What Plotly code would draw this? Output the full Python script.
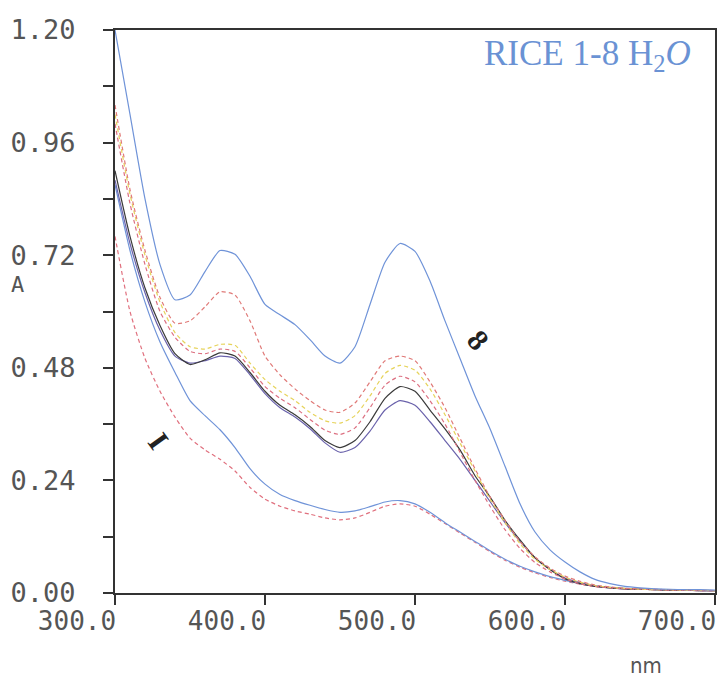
import plotly.graph_objects as go

wavelength = list(range(300, 701, 10))

rice_8 = [1.20, 1.02, 0.84, 0.70, 0.625, 0.635, 0.685, 0.73, 0.722, 0.675,
          0.615, 0.593, 0.572, 0.54, 0.505, 0.49, 0.525, 0.615, 0.705, 0.745,
          0.728, 0.665, 0.58, 0.50, 0.42, 0.35, 0.27, 0.19, 0.13, 0.092,
          0.066, 0.045, 0.029, 0.020, 0.014, 0.011, 0.009, 0.008, 0.007, 0.007, 0.006]
rice_7 = [1.04, 0.86, 0.73, 0.63, 0.575, 0.58, 0.61, 0.642, 0.635, 0.58,
          0.505, 0.465, 0.435, 0.41, 0.39, 0.385, 0.405, 0.45, 0.495, 0.505,
          0.495, 0.45, 0.395, 0.33, 0.265, 0.205, 0.155, 0.11, 0.077, 0.053,
          0.036, 0.025, 0.017, 0.013, 0.010, 0.009, 0.008, 0.007, 0.006, 0.006, 0.005]
rice_6 = [1.02, 0.85, 0.72, 0.62, 0.555, 0.525, 0.52, 0.53, 0.528, 0.49,
          0.455, 0.43, 0.41, 0.385, 0.367, 0.362, 0.378, 0.42, 0.468, 0.485,
          0.475, 0.435, 0.38, 0.32, 0.26, 0.20, 0.15, 0.105, 0.072, 0.05,
          0.034, 0.023, 0.016, 0.012, 0.010, 0.008, 0.007, 0.007, 0.006, 0.006, 0.005]
rice_5 = [1.00, 0.83, 0.70, 0.60, 0.545, 0.515, 0.51, 0.52, 0.515, 0.48,
          0.44, 0.415, 0.395, 0.37, 0.347, 0.338, 0.352, 0.395, 0.443, 0.462,
          0.45, 0.41, 0.36, 0.30, 0.24, 0.185, 0.135, 0.095, 0.065, 0.045,
          0.030, 0.020, 0.014, 0.011, 0.009, 0.008, 0.007, 0.006, 0.006, 0.005, 0.005]
rice_4 = [0.90, 0.76, 0.65, 0.57, 0.51, 0.487, 0.497, 0.512, 0.505, 0.47,
          0.43, 0.40, 0.38, 0.355, 0.325, 0.31, 0.325, 0.365, 0.415, 0.44,
          0.43, 0.39, 0.35, 0.305, 0.25, 0.205, 0.155, 0.113, 0.075, 0.05,
          0.03, 0.02, 0.014, 0.011, 0.009, 0.008, 0.007, 0.006, 0.006, 0.005, 0.005]
rice_3 = [0.88, 0.745, 0.64, 0.56, 0.505, 0.49, 0.495, 0.505, 0.50, 0.465,
          0.425, 0.395, 0.375, 0.35, 0.32, 0.30, 0.31, 0.345, 0.39, 0.41,
          0.40, 0.365, 0.325, 0.285, 0.24, 0.195, 0.15, 0.11, 0.075, 0.05,
          0.032, 0.022, 0.015, 0.011, 0.009, 0.008, 0.007, 0.006, 0.006, 0.005, 0.005]
rice_2 = [0.87, 0.73, 0.62, 0.535, 0.47, 0.41, 0.378, 0.348, 0.31, 0.265,
          0.232, 0.21, 0.197, 0.187, 0.178, 0.172, 0.175, 0.184, 0.194, 0.197,
          0.19, 0.172, 0.15, 0.13, 0.11, 0.09, 0.072, 0.057, 0.045, 0.035,
          0.027, 0.02, 0.015, 0.012, 0.01, 0.009, 0.008, 0.007, 0.006, 0.006, 0.005]
rice_1 = [0.76, 0.60, 0.50, 0.43, 0.375, 0.33, 0.305, 0.285, 0.26, 0.225,
          0.20, 0.185, 0.175, 0.168, 0.16, 0.156, 0.16, 0.172, 0.185, 0.19,
          0.185, 0.168, 0.148, 0.128, 0.108, 0.088, 0.07, 0.055, 0.043, 0.033,
          0.025, 0.019, 0.014, 0.011, 0.009, 0.008, 0.007, 0.006, 0.006, 0.005, 0.005]

y_tick_vals = [0.0, 0.12, 0.24, 0.36, 0.48, 0.60, 0.72, 0.84, 0.96, 1.08, 1.20]
y_tick_text = ["0.00", "", "0.24", "", "0.48", "", "0.72", "", "0.96", "", "1.20"]
x_tick_vals = [300, 400, 500, 600, 700]
x_tick_text = ["300.0", "400.0", "500.0", "600.0", "700.0"]

series = [
    ("1", rice_1, "#e0707e", "4px,3px"),
    ("2", rice_2, "#6f93d8", "solid"),
    ("3", rice_3, "#6a62ab", "solid"),
    ("4", rice_4, "#3a3a3a", "solid"),
    ("5", rice_5, "#dc6f80", "4px,3px"),
    ("6", rice_6, "#e6d35a", "4px,3px"),
    ("7", rice_7, "#e07a78", "4px,3px"),
    ("8", rice_8, "#6f93d8", "solid"),
]

fig = go.Figure()
for name, vals, color, dash in series:
    fig.add_trace(go.Scatter(
        x=wavelength, y=vals, mode="lines", name=name,
        line=dict(color=color, width=1.2, dash=dash, shape="spline", smoothing=0.6),
        showlegend=False,
    ))

mono = "DejaVu Sans Mono"
fig.update_layout(
    width=719, height=685,
    margin=dict(l=115, r=4, t=30, b=92),
    paper_bgcolor="white", plot_bgcolor="white",
    xaxis=dict(range=[300, 700], tickvals=x_tick_vals, ticktext=x_tick_text,
               ticks="outside", ticklen=10, tickwidth=1.5, tickcolor="#333",
               showline=True, linecolor="#333", linewidth=2, mirror=True,
               showgrid=False, zeroline=False, automargin=False,
               tickfont=dict(family=mono, size=26, color="#555"),
               ticklabelshift=-38, ticklabelstandoff=-6),
    yaxis=dict(range=[0, 1.2], tickvals=y_tick_vals, ticktext=y_tick_text,
               ticks="outside", ticklen=10, tickwidth=1.5, tickcolor="#333",
               showline=True, linecolor="#333", linewidth=2, mirror=True,
               showgrid=False, zeroline=False, automargin=False,
               tickfont=dict(family=mono, size=27, color="#555"),
               ticklabelstandoff=22),
)

fig.add_annotation(text="A", xref="paper", x=0, xanchor="left", xshift=-106,
                   yref="y", y=0.72, yanchor="middle", yshift=-29, showarrow=False,
                   font=dict(family=mono, size=22, color="#555"))
fig.add_annotation(text="nm", xref="x", x=654, yref="paper", y=0, yanchor="middle",
                   yshift=-72, showarrow=False,
                   font=dict(family="Liberation Sans Narrow, DejaVu Sans Condensed, sans-serif", size=22, color="#555"))
fig.add_annotation(text="RICE 1-8 H<sub>2</sub><i>O</i>", xref="paper", x=1, xanchor="right",
                   xshift=-22, yref="paper", y=1, yanchor="top", yshift=-2, showarrow=False,
                   font=dict(family="Liberation Serif, serif", size=35, color="#6a92d4"))
fig.add_annotation(text="<b>8</b>", xref="x", x=542, yref="y", y=0.54, showarrow=False,
                   textangle=50, font=dict(family="Liberation Serif, serif", size=30, color="#222"))
fig.add_annotation(text="<b>I</b>", xref="x", x=329, yref="y", y=0.325, showarrow=False,
                   textangle=54, font=dict(family="Liberation Serif, serif", size=30, color="#222"))

# remove the browser's default 8px page margin so the figure fills the window
fig.write_html("out.html", config={"displayModeBar": False},
               post_script="document.body.style.margin='0';document.body.style.overflow='hidden';")
